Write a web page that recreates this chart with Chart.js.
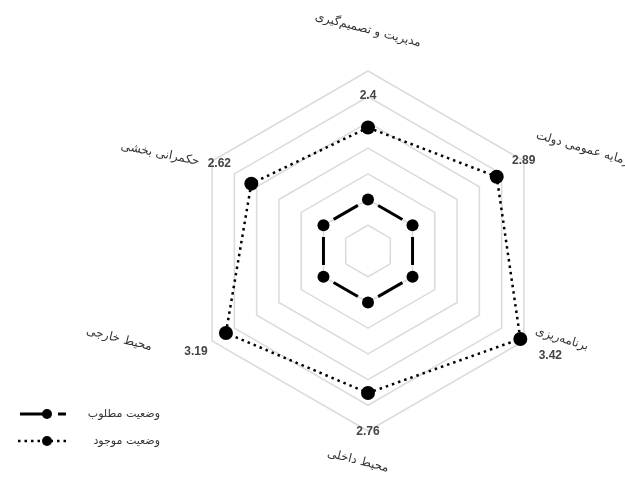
<!DOCTYPE html>
<html><head><meta charset="utf-8">
<script src="https://cdn.jsdelivr.net/npm/chart.js@4.4.1/dist/chart.umd.min.js"></script>
<style>html,body{margin:0;padding:0;background:#fff}#wrap{width:625px;height:477px}</style>
</head><body><div id="wrap"><canvas id="c" width="625" height="477"></canvas></div>
<script>
const categories = ['مدیریت و تصمیم‌گیری', 'سرمایه عمومی دولت', 'برنامه‌ریزی', 'محیط داخلی', 'محیط خارجی', 'حکمرانی بخشی'];
const seriesNames = ['وضعیت مطلوب', 'وضعیت موجود'];
const desiredValues = [1, 1, 1, 1, 1, 1];
const currentValues = [2.4, 2.89, 3.42, 2.76, 3.19, 2.62];
const valueLabels = ['2.4', '2.89', '3.42', '2.76', '3.19', '2.62'];

const labelStyle = {
  catOffsets: [[0,-41],[64,-11],[38,-2],[-10,30],[-93,-2],[-52,-7]],
  catRot: [0.25, 0.28, 0.3, 0.25, 0.25, 0.2],
  valOffsets: [[0,-32],[27,-16],[30,17],[0,39],[-30,19],[-32,-20]]
};

const overlay = {
  id: 'overlay',
  afterDatasetsDraw(chart) {
    const ctx = chart.ctx, s = chart.scales.r;
    ctx.save();
    ctx.fillStyle = '#333';
    ctx.font = '12px "DejaVu Sans"';
    ctx.textAlign = 'center'; ctx.textBaseline = 'middle';
    categories.forEach((c, i) => {
      const p = s.getPointPosition(i, s.drawingArea);
      const o = labelStyle.catOffsets[i];
      ctx.save();
      ctx.translate(p.x + o[0], p.y + o[1]);
      ctx.rotate(labelStyle.catRot[i]);
      ctx.fillText(c, 0, 0);
      ctx.restore();
    });
    ctx.font = 'bold 12px "Liberation Sans"';
    ctx.fillStyle = '#444';
    const ds = chart.data.datasets[1].data;
    valueLabels.forEach((t, i) => {
      const p = s.getPointPosition(i, s.getDistanceFromCenterForValue(ds[i]));
      const o = labelStyle.valOffsets[i];
      ctx.fillText(t, p.x + o[0], p.y + o[1]);
    });
    chart.data.datasets.forEach((d, i) => {
      const y = 414 + i * 27;
      ctx.save();
      ctx.strokeStyle = d.borderColor; ctx.lineWidth = d.borderWidth;
      ctx.setLineDash(i === 0 ? [23, 15] : d.borderDash);
      ctx.beginPath(); ctx.moveTo(i === 0 ? 20 : 18, y); ctx.lineTo(66, y); ctx.stroke();
      ctx.setLineDash([]);
      ctx.fillStyle = d.pointBackgroundColor;
      ctx.beginPath(); ctx.arc(47, y, 5, 0, Math.PI * 2); ctx.fill();
      ctx.restore();
      ctx.fillStyle = '#333';
      ctx.font = '11px "DejaVu Sans"';
      ctx.textAlign = 'right';
      ctx.fillText(d.label, 160, y);
    });
    ctx.restore();
  }
};

new Chart(document.getElementById('c'), {
  type: 'radar',
  data: {
    labels: categories,
    datasets: [
      { label: seriesNames[0], data: desiredValues, borderColor: '#000', borderWidth: 3,
        borderDash: [28, 23.43], borderDashOffset: 39.7, fill: false,
        pointRadius: 6, pointBackgroundColor: '#000', pointBorderWidth: 0 },
      { label: seriesNames[1], data: currentValues, borderColor: '#000', borderWidth: 2.5,
        borderDash: [2.5, 4], fill: false,
        pointRadius: 7, pointBackgroundColor: '#000', pointBorderWidth: 0 }
    ]
  },
  options: {
    responsive: false, animation: false,
    layout: { padding: { top: 71, bottom: 46, left: 188, right: 77 } },
    plugins: { legend: { display: false }, tooltip: { enabled: false } },
    scales: {
      r: {
        min: 0, max: 3.5,
        ticks: { display: false, stepSize: 0.5 },
        pointLabels: { display: false },
        angleLines: { display: false },
        grid: { color: '#dcdcdc', lineWidth: 1.6 }
      }
    }
  },
  plugins: [overlay]
});
</script></body></html>
